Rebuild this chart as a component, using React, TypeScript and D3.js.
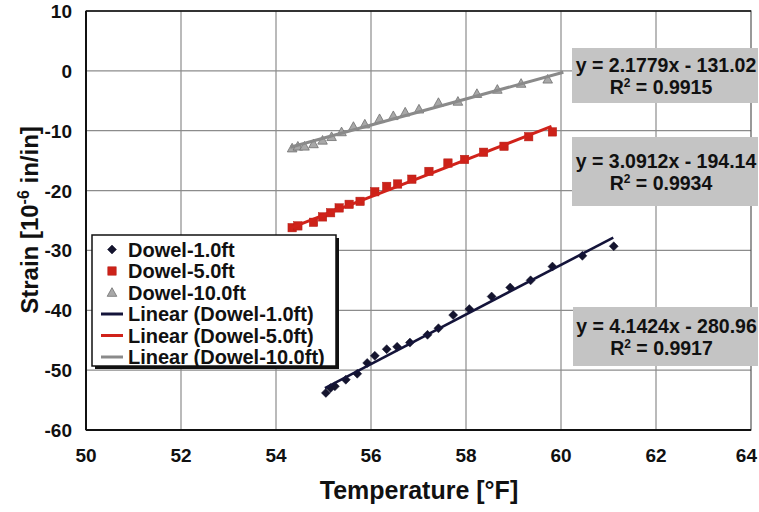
import React from "react";
import * as d3 from "d3";

// ---- Data ----
const xTicks = [50, 52, 54, 56, 58, 60, 62, 64];
const yTicks = [10, 0, -10, -20, -30, -40, -50, -60];

const dowel1X = [55.05, 55.15, 55.24, 55.47, 55.71, 55.92, 56.08, 56.33, 56.55, 56.82, 57.19, 57.42, 57.73, 58.07, 58.54, 58.93, 59.36, 59.82, 60.45, 61.11];
const dowel1Y = [-53.8, -53.0, -52.7, -51.6, -50.6, -48.8, -47.6, -46.5, -46.1, -45.4, -44.1, -43.0, -40.8, -39.8, -37.7, -36.2, -35.0, -32.7, -30.9, -29.3];

const dowel5X = [54.34, 54.46, 54.79, 54.98, 55.15, 55.33, 55.54, 55.77, 56.08, 56.33, 56.56, 56.86, 57.22, 57.62, 57.97, 58.37, 58.8, 59.32, 59.82];
const dowel5Y = [-26.2, -25.9, -25.3, -24.4, -23.7, -22.9, -22.3, -21.8, -20.2, -19.3, -18.9, -18.1, -16.8, -15.4, -14.8, -13.6, -12.6, -11.0, -10.2];

const dowel10X = [54.34, 54.46, 54.6, 54.79, 54.98, 55.17, 55.38, 55.63, 55.87, 56.18, 56.47, 56.72, 57.01, 57.42, 57.83, 58.23, 58.66, 59.16, 59.72];
const dowel10Y = [-12.9, -12.6, -12.6, -12.2, -11.6, -11.0, -10.2, -9.3, -8.9, -8.0, -7.5, -6.9, -6.4, -5.3, -5.1, -3.8, -3.1, -2.1, -1.4];

const seriesNames = ["Dowel-1.0ft", "Dowel-5.0ft", "Dowel-10.0ft"];
const slopes = [4.1424, 3.0912, 2.1779];
const intercepts = [-280.96, -194.14, -131.02];
const fitStart = [55.03, 54.3, 54.3];
const fitEnd = [61.1, 59.8, 60.05];
const eqLabels = ["y = 4.1424x - 280.96", "y = 3.0912x - 194.14", "y = 2.1779x - 131.02"];
const r2Labels = ["0.9917", "0.9934", "0.9915"];

// ---- Styles ----
const FONT = "'Liberation Sans', Arial, Helvetica, sans-serif";
const markerColors = ["#14142e", "#cc2219", "#a8a8a8"];
const markerStroke = ["#14142e", "#b51d15", "#707070"];
const lineColors = ["#14143a", "#d0221a", "#8a8a8a"];

const W = 759;
const H = 512;
const PL = 86, PR = 751, PT = 11, PB = 430;

const x = d3.scaleLinear().domain([50, 64]).range([PL, PR]);
const y = d3.scaleLinear().domain([-60, 10]).range([PB, PT]);

const labelBoxes = [
  { x0: 573, y0: 307, x1: 758, y1: 366 },
  { x0: 572, y0: 137, x1: 758, y1: 206 },
  { x0: 572, y0: 48, x1: 758, y1: 103 },
];

function Marker({ kind, cx, cy }: { kind: number; cx: number; cy: number }) {
  if (kind === 0) {
    const s = 4.5;
    return (
      <path
        d={`M${cx},${cy - s}L${cx + s},${cy}L${cx},${cy + s}L${cx - s},${cy}Z`}
        fill={markerColors[0]}
        stroke={markerStroke[0]}
        strokeWidth={0.5}
      />
    );
  }
  if (kind === 1) {
    const s = 4.2;
    return <rect x={cx - s} y={cy - s} width={2 * s} height={2 * s} fill={markerColors[1]} stroke={markerStroke[1]} strokeWidth={0.5} />;
  }
  const s = 4.8;
  return (
    <path
      d={`M${cx},${cy - s}L${cx + s},${cy + s * 0.8}L${cx - s},${cy + s * 0.8}Z`}
      fill={markerColors[2]}
      stroke={markerStroke[2]}
      strokeWidth={0.8}
    />
  );
}

export default function App() {
  const seriesX = [dowel1X, dowel5X, dowel10X];
  const seriesY = [dowel1Y, dowel5Y, dowel10Y];
  const line = d3
    .line<number>()
    .x((d) => x(d[0]))
    .y((d) => y(d[1]));

  const legendRows = [249.5, 271, 292.5, 314, 335.5, 357];
  const lastX = xTicks[xTicks.length - 1];

  return (
    <svg width={W} height={H} style={{ position: "absolute", left: 0, top: 0, background: "#fff" }} fontFamily={FONT}>
      <rect x={0} y={0} width={W} height={H} fill="#fff" />
      {/* gridlines */}
      {xTicks.slice(1, -1).map((t) => (
        <line key={"gx" + t} x1={x(t)} x2={x(t)} y1={PT} y2={PB} stroke="#8c8c8c" strokeWidth={1.2} />
      ))}
      {yTicks.slice(1, -1).map((t) => (
        <line key={"gy" + t} x1={PL} x2={PR} y1={y(t)} y2={y(t)} stroke="#8c8c8c" strokeWidth={1.2} />
      ))}
      {/* plot border */}
      <rect x={PL} y={PT} width={PR - PL} height={PB - PT} fill="none" stroke="#555" strokeWidth={1.2} />
      <line x1={PL} x2={PL} y1={PT} y2={PB} stroke="#111" strokeWidth={2} />
      <line x1={PL} x2={PR} y1={PB} y2={PB} stroke="#111" strokeWidth={2} />
      <line x1={PL} x2={PR} y1={PT} y2={PT} stroke="#111" strokeWidth={1.5} />

      {/* tick labels */}
      {xTicks.map((t) => (
        <text
          key={"tx" + t}
          x={t === lastX ? 757 : x(t)}
          y={462}
          textAnchor={t === lastX ? "end" : "middle"}
          fontSize={19}
          fontWeight="bold"
          fill="#111"
        >
          {t}
        </text>
      ))}
      {yTicks.map((t) => (
        <text key={"ty" + t} x={72} y={y(t) + 7} textAnchor="end" fontSize={19} fontWeight="bold" fill="#111">
          {t}
        </text>
      ))}

      {/* axis titles */}
      <text x={419} y={499} textAnchor="middle" fontSize={25} fontWeight="bold" fill="#111">
        Temperature [°F]
      </text>
      <text transform="translate(38,220) rotate(-90)" textAnchor="middle" fontSize={24} fontWeight="bold" fill="#111">
        Strain [10
        <tspan dy={-9} fontSize={16}>-6</tspan>
        <tspan dy={9}> in/in]</tspan>
      </text>

      {/* markers */}
      {seriesX.map((xs, si) =>
        xs.map((xv, i) => <Marker key={`m${si}-${i}`} kind={si} cx={x(xv)} cy={y(seriesY[si][i])} />)
      )}

      {/* trend lines */}
      {slopes.map((m, si) => (
        <path
          key={"fit" + si}
          d={line([
            [fitStart[si], m * fitStart[si] + intercepts[si]],
            [fitEnd[si], m * fitEnd[si] + intercepts[si]],
          ]) || ""}
          stroke={lineColors[si]}
          strokeWidth={si === 0 ? 2.6 : 3}
          fill="none"
        />
      ))}

      {/* equation labels */}
      {labelBoxes.map((b, i) => {
        const cx = (b.x0 + b.x1) / 2 + 1;
        const cy = (b.y0 + b.y1) / 2;
        return (
          <g key={"lb" + i}>
            <rect x={b.x0} y={b.y0} width={b.x1 - b.x0} height={b.y1 - b.y0} fill="#c4c4c4" />
            <text x={cx} y={cy - 4} textAnchor="middle" fontSize={19.5} fontWeight="bold" fill="#111">
              {eqLabels[i]}
            </text>
            <text x={cx - 5} y={cy + 18} textAnchor="middle" fontSize={19.5} fontWeight="bold" fill="#111">
              R<tspan dy={-7} fontSize={12}>2</tspan>
              <tspan dy={7}> = {r2Labels[i]}</tspan>
            </text>
          </g>
        );
      })}

      {/* legend */}
      <rect x={95} y={238} width={244} height={131} fill="#111" />
      <rect x={92} y={235} width={244} height={131} fill="#fff" stroke="#111" strokeWidth={1.5} />
      {seriesNames.map((n, i) => (
        <g key={"lg" + i}>
          <Marker kind={i} cx={112} cy={legendRows[i]} />
          <text x={128} y={legendRows[i] + 7} fontSize={20} fontWeight="bold" fill="#111">
            {n}
          </text>
        </g>
      ))}
      {seriesNames.map((n, i) => (
        <g key={"ll" + i}>
          <line x1={101} x2={123} y1={legendRows[i + 3]} y2={legendRows[i + 3]} stroke={lineColors[i]} strokeWidth={3} />
          <text x={128} y={legendRows[i + 3] + 7} fontSize={20} fontWeight="bold" fill="#111">
            {`Linear (${n})`}
          </text>
        </g>
      ))}
    </svg>
  );
}
